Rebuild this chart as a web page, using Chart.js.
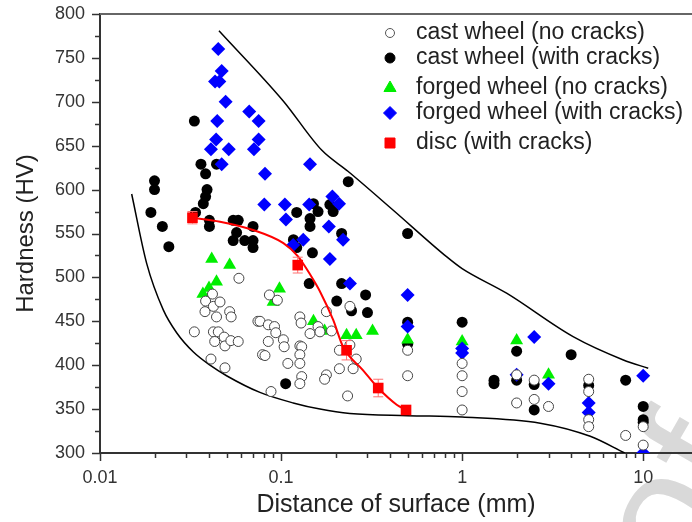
<!DOCTYPE html>
<html>
<head>
<meta charset="utf-8">
<script src="https://cdn.jsdelivr.net/npm/chart.js@4.4.1/dist/chart.umd.min.js"></script>
<style>
html, body { margin: 0; padding: 0; background: #fff; overflow: hidden; }
#wrap { position: relative; width: 692px; height: 522px; }
</style>
</head>
<body>
<div id="wrap"><canvas id="hardnessChart" width="692" height="522"></canvas></div>
<script>
// cast wheel (no cracks)
const castNoX = [0.0332, 0.0383, 0.0418, 0.038, 0.0423, 0.046, 0.044, 0.0423, 0.045, 0.043, 0.0485, 0.049, 0.0528, 0.058, 0.052, 0.053, 0.0585, 0.041, 0.049,
    0.0745, 0.0765, 0.085, 0.092, 0.0935, 0.0862, 0.0954, 0.085, 0.079, 0.0815, 0.103, 0.104, 0.088, 0.109,
    0.127, 0.129, 0.127, 0.13, 0.127, 0.127, 0.13, 0.127, 0.1445, 0.16, 0.164, 0.178, 0.19, 0.178, 0.174,
    0.21, 0.21, 0.24, 0.233, 0.25, 0.26, 0.24, 0.5, 0.5, 1, 1, 1, 1, 2, 2, 2.5, 2.5, 3, 5, 5, 5, 5, 8, 10, 10];
const castNoY = [438, 473, 481, 461, 467, 472, 455, 438, 438, 427, 432, 422, 428, 427, 461, 455, 499, 407, 397,
    450, 450, 446, 444, 437, 480, 474, 427, 412, 411, 429, 421, 370, 402,
    455, 448, 422, 421, 412, 402, 387, 379, 436, 444, 438, 461, 439, 389, 384,
    396, 417, 467, 365, 396, 407, 423, 417, 388, 402, 388, 370, 349, 389, 357, 383, 361, 353, 384, 370, 338, 330, 320, 330, 309];

// cast wheel (with cracks)
const castCrX = [0.0332, 0.02, 0.02, 0.0191, 0.0221, 0.024, 0.0361, 0.0383, 0.039, 0.0383, 0.0372, 0.0337, 0.0402, 0.0402, 0.044,
    0.0544, 0.058, 0.0568, 0.0544, 0.063, 0.070, 0.070, 0.070, 0.122, 0.1445, 0.1445, 0.151, 0.16, 0.117, 0.122, 0.149,
    0.186, 0.194, 0.216, 0.235, 0.143, 0.216, 0.293, 0.203, 0.245, 0.30, 0.5, 0.5, 0.5, 1, 1.5, 1.5, 2, 2, 2.5, 2.5,
    4, 5, 8, 10, 10, 10, 0.106];
const castCrY = [678, 610, 600, 574, 558, 535, 629, 618, 600, 592, 584, 574, 565, 558, 629,
    565, 565, 551, 542, 542, 542, 558, 534, 574, 567, 558, 584, 575, 543, 534, 528,
    583, 575, 550, 609, 493, 493, 480, 473, 462, 460, 550, 449, 424, 449, 383, 379, 416, 383, 378, 349,
    412, 377, 383, 353, 338, 335, 379];

// forged wheel (no cracks)
const forgedNoX = [0.0414, 0.052, 0.044, 0.04, 0.037, 0.098, 0.0904, 0.151, 0.174, 0.23, 0.26, 0.32, 0.5, 1, 2, 3];
const forgedNoY = [521, 514, 495, 488, 481, 487, 472, 450, 439, 434, 434, 439, 429, 427, 428, 389];

// forged wheel (with cracks)
const forgedCrX = [0.045, 0.047, 0.0432, 0.0456, 0.0494, 0.0444, 0.0667, 0.0752, 0.0438, 0.041, 0.0514, 0.0752, 0.0708, 0.047,
    0.0815, 0.1445, 0.0808, 0.105, 0.1064, 0.143, 0.192, 0.209, 0.1167, 0.1326, 0.1836, 0.22, 0.186, 0.24,
    0.5, 0.5, 1, 1, 2.5, 2, 3, 5, 5, 10, 10];
const forgedCrY = [760, 735, 723, 723, 700, 678, 689, 678, 657, 646, 646, 657, 646, 629,
    618, 629, 583, 583, 566, 583, 592, 584, 537, 543, 558, 543, 521, 493,
    480, 444, 419, 414, 432, 389, 379, 357, 346, 388, 300];

// disc (with cracks) and its error bars
const discX = [0.0324, 0.1236, 0.23, 0.344, 0.49];
const discY = [568, 514, 417, 374, 349];
const discErr = [7, 9, 11, 10, 0];

// fitted curve through the disc values
const discFitX = [0.0324, 0.046, 0.07, 0.103, 0.124, 0.147, 0.164, 0.194, 0.22, 0.283, 0.344, 0.435, 0.49];
const discFitY = [568, 563.5, 554, 539, 524, 501, 484, 451.5, 421, 394.5, 374, 355, 349];

// upper and lower envelope lines
const upperX = [0.0454, 0.1028, 0.1675, 0.235, 0.415, 0.82, 1, 1.76, 4.1, 7.77, 10.66];
const upperY = [781, 701, 645, 620.6, 576.8, 523.6, 510, 482, 432.5, 406, 396.5];
const lowerX = [0.01496, 0.0181, 0.02236, 0.0265, 0.0328, 0.0405, 0.05, 0.0764, 0.1167, 0.164, 0.24, 0.5, 1, 2.7, 5.1, 7.9];
const lowerY = [595, 516, 463, 437, 415, 400, 388, 369, 357, 350, 345, 342.5, 341, 334, 319, 300];

const xTicks = [0.01, 0.1, 1, 10];
const xMin = 0.01, xMax = 18.6;   // right edge of the plot is cut off by the picture
const yMin = 300, yMax = 800;

const FONT = "'Liberation Sans', Arial, sans-serif";

function pts(xs, ys) {
    return xs.map((x, i) => ({ x: x, y: ys[i] }));
}

const legendItems = [
    { text: "cast wheel (no cracks)", style: "circle", fill: "#fff", stroke: "#555", r: 4.5, y: 33 },
    { text: "cast wheel (with cracks)", style: "circle", fill: "#000", stroke: "#000", r: 5, y: 58 },
    { text: "forged wheel (no cracks)", style: "triangle", fill: "#00ee00", stroke: "#00ee00", r: 7, y: 88 },
    { text: "forged wheel (with cracks)", style: "diamond", fill: "#0000ff", stroke: "#0000ff", r: 6.5, y: 113 },
    { text: "disc (with cracks)", style: "square", fill: "#ff0000", stroke: "#ff0000", r: 5, y: 143 },
];

function marker(ctx, style, x, y, r) {
    ctx.beginPath();
    if (style === "circle") {
        ctx.arc(x, y, r, 0, Math.PI * 2);
    } else if (style === "triangle") {
        ctx.moveTo(x, y - r);
        ctx.lineTo(x + r * 0.866, y + r * 0.5);
        ctx.lineTo(x - r * 0.866, y + r * 0.5);
        ctx.closePath();
    } else if (style === "diamond") {
        ctx.moveTo(x, y - r);
        ctx.lineTo(x + r, y);
        ctx.lineTo(x, y + r);
        ctx.lineTo(x - r, y);
        ctx.closePath();
    } else {
        ctx.rect(x - r, y - r, 2 * r, 2 * r);
    }
}

const decorations = {
    id: "decorations",
    beforeDraw(chart) {
        // faint watermark in the lower right corner
        const ctx = chart.ctx;
        ctx.save();
        ctx.translate(687, 590);
        ctx.rotate(-1.05);
        ctx.font = "175px " + FONT;
        ctx.fillStyle = "#d9d9d9";
        ctx.textBaseline = "alphabetic";
        ctx.textAlign = "left";
        ctx.fillText("of", 0, 0);
        ctx.restore();
    },
    beforeDatasetDraw(chart, args) {
        if (chart.data.datasets[args.index].label !== "disc (with cracks)") return;
        const ctx = chart.ctx;
        const xs = chart.scales.x, ys = chart.scales.y;
        ctx.save();
        ctx.strokeStyle = "#ff7070";
        ctx.lineWidth = 1;
        discX.forEach((v, i) => {
            if (!discErr[i]) return;
            const px = xs.getPixelForValue(v);
            const top = ys.getPixelForValue(discY[i] + discErr[i]);
            const bot = ys.getPixelForValue(discY[i] - discErr[i]);
            ctx.beginPath();
            ctx.moveTo(px, top); ctx.lineTo(px, bot);
            ctx.moveTo(px - 5, top); ctx.lineTo(px + 5, top);
            ctx.moveTo(px - 5, bot); ctx.lineTo(px + 5, bot);
            ctx.stroke();
        });
        ctx.restore();
    },
    afterDraw(chart) {
        const ctx = chart.ctx;
        const area = chart.chartArea;
        const xs = chart.scales.x, ys = chart.scales.y;
        ctx.save();
        ctx.strokeStyle = "#333";
        ctx.lineWidth = 1.5;
        // y ticks, outward, minor every 25
        for (let v = yMin; v <= yMax; v += 25) {
            const py = Math.round(ys.getPixelForValue(v)) + 0.5;
            const len = v % 50 === 0 ? 8 : 5;
            ctx.beginPath();
            ctx.moveTo(area.left, py);
            ctx.lineTo(area.left - len, py);
            ctx.stroke();
        }
        // x ticks, outward, minor at 2..9 of each decade
        for (let d = -2; d <= 1; d++) {
            for (let m = 1; m <= 9; m++) {
                const v = m * Math.pow(10, d);
                if (v > xs.max) continue;
                const px = Math.round(xs.getPixelForValue(v)) + 0.5;
                const len = m === 1 ? 8 : 5;
                ctx.beginPath();
                ctx.moveTo(px, area.bottom);
                ctx.lineTo(px, area.bottom + len);
                ctx.stroke();
            }
        }
        // top frame
        ctx.strokeStyle = "#666";
        ctx.lineWidth = 2;
        ctx.beginPath();
        ctx.moveTo(area.left, area.top);
        ctx.lineTo(area.right, area.top);
        ctx.stroke();

        // legend
        ctx.font = "23px " + FONT;
        ctx.textBaseline = "middle";
        ctx.textAlign = "left";
        legendItems.forEach(it => {
            marker(ctx, it.style, 390, it.y, it.r);
            ctx.fillStyle = it.fill;
            ctx.fill();
            ctx.lineWidth = 1;
            ctx.strokeStyle = it.stroke;
            ctx.stroke();
            ctx.fillStyle = "#222";
            ctx.fillText(it.text, 416, it.y);
        });
        ctx.restore();
    }
};

const ctx = document.getElementById("hardnessChart").getContext("2d");
const hardnessChart = new Chart(ctx, {
    type: "scatter",
    data: {
        datasets: [
            {
                label: "cast wheel (no cracks)",
                data: pts(castNoX, castNoY),
                pointStyle: "circle",
                pointRadius: 5,
                pointBackgroundColor: "#fff",
                pointBorderColor: "#444",
                pointBorderWidth: 1,
                order: 3,
            },
            {
                label: "cast wheel (with cracks)",
                data: pts(castCrX, castCrY),
                pointStyle: "circle",
                pointRadius: 5.5,
                pointBackgroundColor: "#000",
                pointBorderColor: "#000",
                pointBorderWidth: 0,
                order: 6,
            },
            {
                label: "forged wheel (no cracks)",
                data: pts(forgedNoX, forgedNoY),
                pointStyle: "triangle",
                pointRadius: 7.5,
                pointBackgroundColor: "#00ee00",
                pointBorderColor: "#00ee00",
                pointBorderWidth: 0,
                order: 5,
            },
            {
                label: "forged wheel (with cracks)",
                data: pts(forgedCrX, forgedCrY),
                pointStyle: "rectRot",
                pointRadius: 7,
                pointBackgroundColor: "#0000ff",
                pointBorderColor: "#0000ff",
                pointBorderWidth: 0,
                clip: 0,
                order: 4,
            },
            {
                label: "disc (with cracks)",
                data: pts(discX, discY),
                pointStyle: "rect",
                pointRadius: 7.5,
                pointBackgroundColor: "#ff0000",
                pointBorderColor: "#ff0000",
                pointBorderWidth: 0,
                order: 1,
            },
            {
                label: "disc fit",
                data: pts(discFitX, discFitY),
                showLine: true,
                pointRadius: 0,
                borderColor: "#ff0000",
                borderWidth: 2,
                cubicInterpolationMode: "monotone",
                order: 2,
            },
            {
                label: "upper bound",
                data: pts(upperX, upperY),
                showLine: true,
                pointRadius: 0,
                borderColor: "#000",
                borderWidth: 1.5,
                cubicInterpolationMode: "monotone",
                order: 10,
            },
            {
                label: "lower bound",
                data: pts(lowerX, lowerY),
                showLine: true,
                pointRadius: 0,
                borderColor: "#000",
                borderWidth: 1.5,
                cubicInterpolationMode: "monotone",
                order: 10,
            },
        ],
    },
    options: {
        responsive: false,
        animation: false,
        layout: {
            autoPadding: false,
            padding: { top: 14, right: 0, left: 0, bottom: 0 }
        },
        plugins: {
            legend: { display: false },
            tooltip: { enabled: false }
        },
        scales: {
            x: {
                type: "logarithmic",
                position: "bottom",
                min: xMin,
                max: xMax,
                afterFit: scale => {
                    scale.height = 69;
                    scale.paddingLeft = 0;
                    scale.paddingRight = 0;
                },
                grid: { display: false, drawTicks: false },
                border: { display: true, color: "#333", width: 2 },
                ticks: {
                    autoSkip: false,
                    maxRotation: 0,
                    padding: 14,
                    color: "#333",
                    font: { family: FONT, size: 18 },
                    callback: function(value) {
                        return xTicks.some(t => Math.abs(t - value) < t * 1e-6) ? String(value) : "";
                    }
                },
                title: {
                    display: true,
                    text: "Distance of surface (mm)",
                    color: "#222",
                    font: { family: FONT, size: 25 },
                    padding: { top: 0, bottom: 2 }
                }
            },
            y: {
                min: yMin,
                max: yMax,
                afterFit: scale => {
                    scale.width = 100;
                    scale.paddingTop = 0;
                    scale.paddingBottom = 0;
                },
                grid: { display: false, drawTicks: false },
                border: { display: true, color: "#333", width: 2 },
                ticks: {
                    stepSize: 50,
                    padding: 15,
                    color: "#333",
                    font: { family: FONT, size: 18 }
                },
                title: {
                    display: true,
                    text: "Hardness (HV)",
                    color: "#222",
                    font: { family: FONT, size: 24 },
                    padding: { top: 12, bottom: 0 }
                }
            }
        }
    },
    plugins: [decorations]
});
</script>
</body>
</html>
